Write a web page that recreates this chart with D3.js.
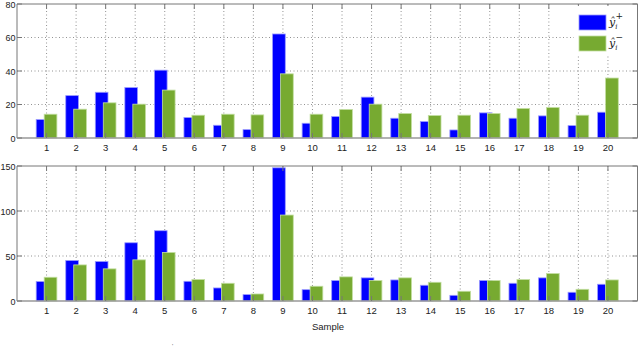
<!DOCTYPE html>
<html>
<head>
<meta charset="utf-8">
<script src="https://cdn.jsdelivr.net/npm/d3@7"></script>
<style>
  body { margin: 0; background: #fff; }
  svg { display: block; font-family: "Liberation Sans", Arial, sans-serif; }
  .tick-label { font-size: 9.5px; fill: #222; }
  .ytick-label { font-size: 9px; fill: #222; }
  .grid { stroke: #777; stroke-width: 0.8; stroke-dasharray: 1,2.5; }
</style>
</head>
<body>
<div id="chart"></div>
<script>
// sample labels along the x axis
const samples = ["1","2","3","4","5","6","7","8","9","10","11","12","13","14","15","16","17","18","19","20"];

// top panel (y hat i plus / minus)
const topPlus  = [11, 25.3, 27.3, 30.1, 40.5, 12.2, 7.6, 5, 62.1, 8.8, 12.8, 24.4, 11.8, 9.8, 4.8, 15, 11.8, 13.2, 7.4, 15.4];
const topMinus = [14.2, 17.2, 21, 20.2, 28.6, 13.6, 14.2, 13.8, 38.3, 14.2, 17, 20.2, 14.6, 13.4, 13.6, 14.6, 17.6, 18.2, 13.6, 35.8];
const topTicks = [0, 20, 40, 60, 80];

// bottom panel
const botPlus  = [21.6, 45, 43.9, 64.7, 78.1, 21.9, 14.5, 7.1, 148, 12.6, 22.7, 25.7, 23.4, 17.5, 6.3, 22.7, 19.7, 25.7, 9.7, 18.6];
const botMinus = [26.4, 40.1, 35.7, 45.7, 53.9, 23.8, 19.7, 7.8, 95.5, 16.4, 26.8, 22.7, 25.7, 20.8, 10.8, 22.7, 23.8, 30.5, 13.0, 23.4];
const botTicks = [0, 50, 100, 150];

const width = 640, height = 351;
const blue = "#0000ff", green = "#77aa31";

const svg = d3.select("#chart").append("svg")
  .attr("width", width)
  .attr("height", height);

//shared x scale, MATLAB style xlim [0 21]
const x = d3.scaleLinear().domain([0, 21]).range([17, 637.5]);
const barW = x(0.43) - x(0);
const off = 0.135;

function drawPanel(plus, minus, yMax, ticks, top, bottom) {
  const y = d3.scaleLinear().domain([0, yMax]).range([bottom, top]);
  const g = svg.append("g");

  //grid
  g.selectAll(".vgrid").data(samples).enter().append("line")
    .attr("class", "grid")
    .attr("x1", (d, i) => x(i + 1)).attr("x2", (d, i) => x(i + 1))
    .attr("y1", top).attr("y2", bottom);
  g.selectAll(".hgrid").data(ticks.slice(1, -1)).enter().append("line")
    .attr("class", "grid")
    .attr("x1", x(0)).attr("x2", x(21))
    .attr("y1", d => y(d)).attr("y2", d => y(d));

  //bars, green drawn over blue
  g.selectAll(".plus").data(plus).enter().append("rect")
    .attr("x", (d, i) => x(i + 1 - off) - barW / 2)
    .attr("y", d => y(d))
    .attr("width", barW)
    .attr("height", d => y(0) - y(d))
    .attr("fill", blue)
    .attr("stroke", "#9a9aff").attr("stroke-width", 0.8);
  g.selectAll(".minus").data(minus).enter().append("rect")
    .attr("x", (d, i) => x(i + 1 + off) - barW / 2)
    .attr("y", d => y(d))
    .attr("width", barW)
    .attr("height", d => y(0) - y(d))
    .attr("fill", green)
    .attr("stroke", "#c2dea0").attr("stroke-width", 0.8);

  //box
  g.append("line").attr("x1", x(0)).attr("x2", x(21)).attr("y1", top).attr("y2", top)
    .attr("stroke", "#777").attr("stroke-width", 1);
  g.append("line").attr("x1", x(21)).attr("x2", x(21)).attr("y1", top).attr("y2", bottom)
    .attr("stroke", "#777").attr("stroke-width", 1);
  g.append("line").attr("x1", x(0)).attr("x2", x(0)).attr("y1", top).attr("y2", bottom)
    .attr("stroke", "#777").attr("stroke-width", 1);
  g.append("line").attr("x1", x(0)).attr("x2", x(21)).attr("y1", bottom).attr("y2", bottom)
    .attr("stroke", "#999").attr("stroke-width", 1.6);

  //inward ticks
  samples.forEach((s, i) => {
    g.append("line").attr("x1", x(i + 1)).attr("x2", x(i + 1))
      .attr("y1", top).attr("y2", top + 5).attr("stroke", "#777");
    g.append("line").attr("x1", x(i + 1)).attr("x2", x(i + 1))
      .attr("y1", bottom).attr("y2", bottom - 5).attr("stroke", "#777");
  });
  ticks.forEach(t => {
    g.append("line").attr("x1", x(0)).attr("x2", x(0) + 5)
      .attr("y1", y(t)).attr("y2", y(t)).attr("stroke", "#777");
    g.append("line").attr("x1", x(21)).attr("x2", x(21) - 5)
      .attr("y1", y(t)).attr("y2", y(t)).attr("stroke", "#777");
  });

  //tick labels
  g.selectAll(".xl").data(samples).enter().append("text")
    .attr("class", "tick-label")
    .attr("x", (d, i) => x(i + 1))
    .attr("y", bottom + 13)
    .attr("text-anchor", "middle")
    .text(d => d);
  g.selectAll(".yl").data(ticks).enter().append("text")
    .attr("class", "ytick-label")
    .attr("x", x(0) - 1.5)
    .attr("y", d => Math.max(y(d) + 3.5, 8))
    .attr("text-anchor", "end")
    .text(d => d);
  return g;
}

drawPanel(topPlus, topMinus, 80, topTicks, 4, 138);
drawPanel(botPlus, botMinus, 150, botTicks, 166, 301);

// x axis title
svg.append("text").attr("class", "tick-label")
  .attr("x", 328).attr("y", 330)
  .attr("text-anchor", "middle")
  .text("Sample");

svg.append("text").attr("x", 172).attr("y", 348)
  .attr("font-size", 6).attr("fill", "#555").text("'");

//legend
const legend = svg.append("g");
legend.append("rect").attr("x", 574).attr("y", 6).attr("width", 63).attr("height", 50).attr("fill", "#fff");
const items = [{c: blue, s: "#9a9aff", sign: "+"}, {c: green, s: "#c2dea0", sign: "\u2212"}];
items.forEach((it, i) => {
  const yy = 15 + i * 21;
  legend.append("rect").attr("x", 579).attr("y", yy).attr("width", 27).attr("height", 15)
    .attr("fill", it.c).attr("stroke", it.s).attr("stroke-width", 0.8);
  const t = legend.append("text").attr("x", 609).attr("y", yy + 11)
    .attr("font-family", "'DejaVu Serif', serif").attr("font-size", 11).attr("fill", "#222");
  t.append("tspan").attr("font-style", "italic").text("\u0177");
  t.append("tspan").attr("font-size", 7).attr("font-style", "italic").attr("dy", 3).text("i");
  t.append("tspan").attr("font-size", 9).attr("dx", -2).attr("dy", -10).text(it.sign);
});
</script>
</body>
</html>
